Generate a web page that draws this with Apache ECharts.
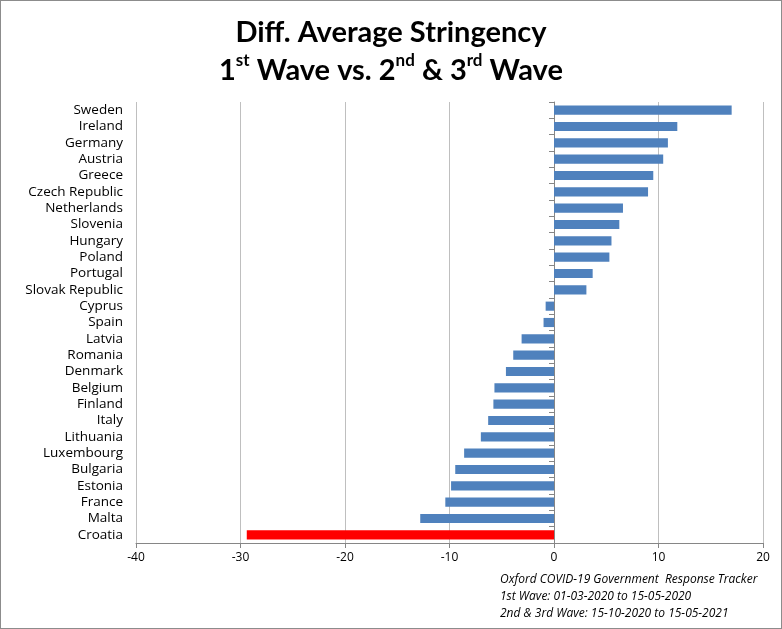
<!DOCTYPE html>
<html><head><meta charset="utf-8">
<script src="https://cdn.jsdelivr.net/npm/echarts@6/dist/echarts.min.js"></script>
<style>html,body{margin:0;padding:0;background:#fff}#c{width:782px;height:629px;box-sizing:border-box;border:1px solid #8c8c8c}</style>
</head><body><div id="c"></div>
<script>
const countries = ['Sweden','Ireland','Germany','Austria','Greece','Czech Republic','Netherlands','Slovenia','Hungary','Poland','Portugal','Slovak Republic','Cyprus','Spain','Latvia','Romania','Denmark','Belgium','Finland','Italy','Lithuania','Luxembourg','Bulgaria','Estonia','France','Malta','Croatia'];
const diffValues = [17.0,11.8,10.9,10.45,9.5,9.0,6.6,6.25,5.5,5.3,3.7,3.1,-0.8,-1.0,-3.1,-3.9,-4.6,-5.7,-5.8,-6.3,-7.0,-8.6,-9.45,-9.85,-10.4,-12.8,-29.4];
const highlightCountry = 'Croatia';
const xTicks = {min:-40, max:20, interval:10};
const notes = ['Oxford COVID-19 Government  Response Tracker','1st Wave: 01-03-2020 to 15-05-2020','2nd & 3rd Wave: 15-10-2020 to 15-05-2021'];

const chart = echarts.init(document.getElementById('c'));
const F = 'Lato, "Open Sans", sans-serif';
const G = '"Open Sans", Lato, sans-serif';
chart.setOption({
  animation:false,
  title:{
    text:'{m|Diff. Average Stringency}\n{m|1}{s|st}{m| Wave vs. 2}{s|nd}{m| & 3}{s|rd}{m| Wave}',
    left:'center', top:8,
    textStyle:{rich:{
      m:{fontFamily:F,fontWeight:'bold',fontSize:29,color:'#000',lineHeight:38},
      s:{fontFamily:F,fontWeight:'bold',fontSize:17,color:'#000',lineHeight:38,verticalAlign:'top',padding:[0,0,11,0]}
    }}
  },
  grid:{left:135,right:18,top:101,bottom:85,containLabel:false},
  xAxis:{type:'value',min:xTicks.min,max:xTicks.max,interval:xTicks.interval,
    axisLine:{show:true,lineStyle:{color:'#868686'}},
    axisTick:{show:true,length:5,lineStyle:{color:'#868686'}},
    axisLabel:{color:'#000',fontFamily:G,fontSize:12,margin:9},
    splitLine:{show:true,lineStyle:{color:'#bfbfbf'}}},
  yAxis:[
    {type:'category',data:countries,inverse:true,position:'left',
     axisLine:{show:false},axisTick:{show:false},
     axisLabel:{interval:0,color:'#000',fontFamily:G,fontSize:13.5,margin:13}},
    {type:'category',data:countries,inverse:true,position:'left',
     axisLine:{show:true,onZero:true,onZeroAxisIndex:0,lineStyle:{color:'#868686'}},
     axisTick:{show:true,interval:0,length:5,lineStyle:{color:'#868686'}},
     axisLabel:{show:false}}
  ],
  series:[{type:'bar',yAxisIndex:0,barWidth:'56%',
    data:diffValues.map((v,i)=>({value:v,itemStyle:{color:countries[i]===highlightCountry?'#ff0000':'#4f81bd'}}))}],
  graphic:notes.map((t,i)=>({type:'text',left:499,top:573+i*17,
    style:{text:t,fill:'#000',font:'italic 12px '+G}}))
});
</script></body></html>
